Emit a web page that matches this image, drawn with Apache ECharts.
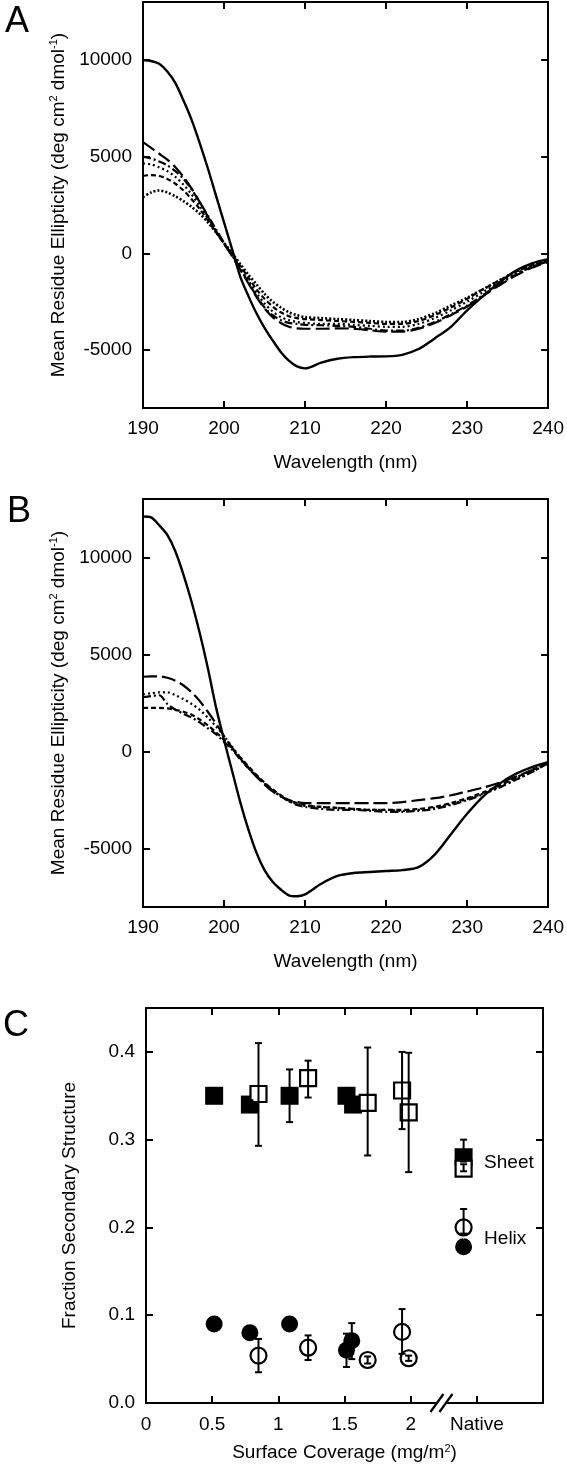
<!DOCTYPE html>
<html><head><meta charset="utf-8">
<script src="https://cdn.jsdelivr.net/npm/echarts@6/dist/echarts.min.js"></script>
<style>html,body{margin:0;padding:0;background:#fff}#c{width:567px;height:1470px}</style>
</head><body><div id="c"></div>
<script>
// ---------- DATA ----------
const wavelengths = [190,191,192,193,194,195,196,197,198,199,200,201,202,203,204,205,206,207,208,209,210,
  212,214,216,218,220,222,224,226,228,230,232,234,236,238,240];

// Panel A
const aSolid = [10000,9950,9800,9400,8800,7900,6900,5700,4400,3000,1600,200,-1200,-2200,-3100,-3850,-4500,-5100,-5550,-5850,-5950,
  -5650,-5450,-5370,-5340,-5330,-5250,-4950,-4400,-3800,-2950,-2200,-1500,-900,-520,-300];
const aLongDash = [5750,5450,5150,4850,4450,3950,3350,2650,1900,1150,500,-150,-850,-1550,-2250,-2850,-3300,-3600,-3800,-3880,-3900,
  -3900,-3880,-3900,-3980,-4050,-4050,-3900,-3600,-3200,-2750,-2200,-1650,-1150,-750,-450];
const aDashDot = [5000,4900,4750,4550,4250,3850,3300,2650,1950,1250,550,-100,-800,-1500,-2200,-2800,-3200,-3450,-3600,-3650,-3700,
  -3720,-3750,-3800,-3900,-4000,-4000,-3850,-3550,-3150,-2700,-2150,-1600,-1100,-700,-420];
const aDotted = [4650,4600,4450,4250,3950,3550,3050,2450,1800,1150,500,-100,-750,-1400,-2050,-2600,-3000,-3300,-3450,-3550,-3600,
  -3650,-3650,-3700,-3750,-3800,-3800,-3650,-3350,-2950,-2500,-2000,-1500,-1050,-680,-400];
const aShortDash = [4000,4050,4000,3850,3600,3250,2800,2300,1700,1100,500,-50,-650,-1250,-1850,-2350,-2750,-3050,-3250,-3350,-3400,
  -3450,-3500,-3550,-3600,-3650,-3650,-3500,-3200,-2800,-2350,-1850,-1400,-950,-620,-380];
const aDenseDot = [2900,3150,3250,3150,2950,2700,2400,2050,1600,1100,550,0,-550,-1100,-1600,-2100,-2500,-2800,-3050,-3200,-3300,
  -3350,-3400,-3450,-3500,-3550,-3550,-3400,-3100,-2700,-2300,-1850,-1400,-950,-620,-380];

// Panel B
const bSolid = [12100,12050,11650,11150,10300,9100,7700,6100,4300,2300,600,-1000,-2600,-4000,-5200,-6100,-6700,-7100,-7400,-7450,-7350,
  -6800,-6400,-6250,-6200,-6150,-6100,-5950,-5300,-4250,-3200,-2300,-1650,-1150,-800,-550];
const bLongDash = [3850,3870,3870,3800,3650,3400,3050,2600,2050,1450,800,200,-350,-850,-1300,-1700,-2050,-2300,-2500,-2600,-2650,
  -2650,-2650,-2650,-2650,-2650,-2600,-2500,-2400,-2250,-2050,-1850,-1600,-1300,-950,-550];
const bDotted = [2950,3000,3050,3050,2900,2700,2450,2150,1750,1300,800,250,-300,-800,-1250,-1650,-2000,-2300,-2550,-2700,-2800,
  -2850,-2900,-2950,-3000,-3000,-3050,-3000,-2900,-2700,-2450,-2150,-1800,-1450,-1050,-600];
const bDashDot = [2800,2850,2900,2450,2150,1950,1750,1500,1200,900,500,100,-400,-850,-1250,-1650,-2000,-2300,-2550,-2750,-2850,
  -2950,-3000,-3000,-3050,-3100,-3100,-3050,-2950,-2750,-2500,-2200,-1850,-1450,-1050,-600];
const bShortDash = [2250,2250,2250,2220,2150,2050,1900,1650,1350,1000,600,150,-300,-750,-1200,-1600,-1950,-2250,-2500,-2650,-2750,
  -2850,-2900,-2950,-3000,-3000,-3000,-2950,-2850,-2650,-2400,-2100,-1750,-1350,-950,-550];

const mreTicks = [-5000, 0, 5000, 10000];

// Panel C: [coverage, fraction, errLow, errHigh]
const sheetFilled = [[0.515,0.350,0.345,0.355],[0.785,0.340,0.335,0.345],[1.085,0.350,0.320,0.380],[1.515,0.350,0.345,0.355],[1.565,0.340,0.335,0.345],[2.40,0.280,0.275,0.300]];
const sheetOpen = [[0.850,0.352,0.293,0.410],[1.225,0.370,0.348,0.390],[1.675,0.342,0.282,0.405],[1.935,0.356,0.312,0.400],[1.985,0.331,0.263,0.399],[2.40,0.267,0.264,0.272]];
const helixFilled = [[0.515,0.090,0.085,0.095],[0.785,0.080,0.075,0.085],[1.085,0.090,0.085,0.095],[1.515,0.060,0.041,0.079],[1.555,0.071,0.050,0.091],[2.40,0.178,0.173,0.183]];
const helixOpen = [[0.850,0.054,0.035,0.073],[1.225,0.063,0.049,0.077],[1.675,0.049,0.045,0.053],[1.935,0.081,0.056,0.107],[1.985,0.051,0.048,0.054],[2.40,0.200,0.193,0.221]];
const legendLabels = [[2.40,0.274,'Sheet'],[2.40,0.187,'Helix']];
const coverageTicks = [0, 0.5, 1, 1.5, 2, 2.5];
const fractionTicks = [0, 0.1, 0.2, 0.3, 0.4];
const axisBreakAt = [[2.24, 0]];

// ---------- CHART ----------
const FONT = 'Liberation Sans, Arial, sans-serif';
const BLACK = '#000';
const chart = echarts.init(document.getElementById('c'), null, {renderer:'canvas'});

const gridA = {left:143, top:2, width:406, height:406};
const gridB = {left:143, top:499, width:406, height:408};
const gridC = {left:146, top:1008, width:397, height:395};

function pairs(vals){ return wavelengths.map((w,i)=>[w, vals[i]]); }
const axisLineStyle = {show:true, onZero:false, lineStyle:{color:BLACK, width:2}};
const tickStyle = {show:true, inside:true, length:7, lineStyle:{color:BLACK, width:2}};
const labelStyle = {color:BLACK, fontFamily:FONT, fontSize:19};
const nameStyle = {color:BLACK, fontFamily:FONT, fontSize:19};
const supRich = {sup:{fontSize:11, fontFamily:FONT, color:BLACK, verticalAlign:'top', padding:[0,0,9,0]}};

function wlAxis(grid, pos, withLabels){
  const ax = {type:'value', gridIndex:grid, position:pos, min:190, max:240, interval:10,
    axisLine:axisLineStyle, axisTick:Object.assign({}, tickStyle), splitLine:{show:false},
    axisLabel: withLabels ? Object.assign({margin:11, formatter:v=>String(v)}, labelStyle) : {show:false}};
  if (withLabels){ ax.name='Wavelength (nm)'; ax.nameLocation='middle'; ax.nameGap=45; ax.nameTextStyle=nameStyle; }
  return ax;
}
function mreAxis(grid, pos, withLabels){
  const ax = {type:'value', gridIndex:grid, position:pos, min:-8000, max:13000,
    axisLine:axisLineStyle, axisTick:Object.assign({customValues:mreTicks}, tickStyle), splitLine:{show:false},
    axisLabel: withLabels ? Object.assign({margin:11, customValues:mreTicks, formatter:v=>String(v)}, labelStyle) : {show:false}};
  if (withLabels){
    ax.name='Mean Residue Ellipticity (deg cm{sup|2} dmol{sup|-1})';
    ax.nameLocation='middle'; ax.nameGap=74; ax.nameRotate=90;
    ax.nameTextStyle=Object.assign({rich:supRich}, nameStyle);
  }
  return ax;
}

function lineSeries(x, y, vals, dash, width){
  return {type:'line', xAxisIndex:x, yAxisIndex:y, data:pairs(vals), showSymbol:false, symbol:'none', smooth:0.3,
    lineStyle:{color:BLACK, width:width||2.2, type:dash||'solid'}, silent:true, z:2};
}

function errRender(params, api){
  const x = api.value(0), lo = api.value(2), hi = api.value(3);
  const p1 = api.coord([x, lo]), p2 = api.coord([x, hi]);
  const cw = 3.5, st = {stroke:BLACK, lineWidth:2};
  return {type:'group', children:[
    {type:'line', shape:{x1:p1[0],y1:p1[1],x2:p2[0],y2:p2[1]}, style:st},
    {type:'line', shape:{x1:p1[0]-cw,y1:p1[1],x2:p1[0]+cw,y2:p1[1]}, style:st},
    {type:'line', shape:{x1:p2[0]-cw,y1:p2[1],x2:p2[0]+cw,y2:p2[1]}, style:st}
  ]};
}
function errSeries(data){
  return {type:'custom', xAxisIndex:4, yAxisIndex:4, data:data, renderItem:errRender, z:6, silent:true, clip:false,
    encode:{x:0, y:1}};
}
function scatterSeries(data, symbol, filled, size){
  return {type:'scatter', xAxisIndex:4, yAxisIndex:4, data:data.map(d=>[d[0],d[1]]), symbol:symbol, symbolSize:size,
    itemStyle:{color: filled?BLACK:'#fff', borderColor:BLACK, borderWidth: filled?0:2.2, opacity:1}, z: filled?3:4, silent:true};
}

const option = {
  animation:false,
  backgroundColor:'#fff',
  textStyle:{fontFamily:FONT, color:BLACK},
  grid:[gridA, gridB, gridC].map(g=>Object.assign({containLabel:false}, g)),
  xAxis:[
    wlAxis(0,'bottom',true), wlAxis(0,'top',false),
    wlAxis(1,'bottom',true), wlAxis(1,'top',false),
    {type:'value', gridIndex:2, position:'bottom', min:0, max:3,
      axisLine:axisLineStyle, axisTick:Object.assign({customValues:[0.5,1,1.5,2,2.5]}, tickStyle), splitLine:{show:false},
      axisLabel:Object.assign({margin:12, customValues:coverageTicks, formatter:v=>(Math.abs(v-2.5)<1e-6?'Native':String(v))}, labelStyle),
      name:'Surface Coverage (mg/m{sup|2})', nameLocation:'middle', nameGap:40,
      nameTextStyle:Object.assign({rich:supRich}, nameStyle)},
    {type:'value', gridIndex:2, position:'top', min:0, max:3,
      axisLine:axisLineStyle, axisTick:Object.assign({customValues:[0.5,1,1.5,2,2.5]}, tickStyle), splitLine:{show:false}, axisLabel:{show:false}}
  ],
  yAxis:[
    mreAxis(0,'left',true), mreAxis(0,'right',false),
    mreAxis(1,'left',true), mreAxis(1,'right',false),
    {type:'value', gridIndex:2, position:'left', min:0, max:0.45,
      axisLine:axisLineStyle, axisTick:Object.assign({customValues:[0.1,0.2,0.3,0.4]}, tickStyle), splitLine:{show:false},
      axisLabel:Object.assign({margin:11, customValues:fractionTicks, formatter:v=>v.toFixed(1)}, labelStyle),
      name:'Fraction Secondary Structure', nameLocation:'middle', nameGap:67, nameRotate:90, nameTextStyle:nameStyle},
    {type:'value', gridIndex:2, position:'right', min:0, max:0.45,
      axisLine:axisLineStyle, axisTick:Object.assign({customValues:[0.1,0.2,0.3,0.4]}, tickStyle), splitLine:{show:false}, axisLabel:{show:false}}
  ],
  graphic:[
    {type:'text', left:5, top:4, style:{text:'A', font:'36px '+FONT, fill:BLACK}},
    {type:'text', left:7, top:494, style:{text:'B', font:'36px '+FONT, fill:BLACK}},
    {type:'text', left:3, top:1008, style:{text:'C', font:'36px '+FONT, fill:BLACK}}
  ],
  series:[
    lineSeries(0,0,aSolid,'solid',2.4),
    lineSeries(0,0,aLongDash,[14,5]),
    lineSeries(0,0,aDashDot,[8,3,2,3]),
    lineSeries(0,0,aDotted,[2,3]),
    lineSeries(0,0,aShortDash,[5,3]),
    lineSeries(0,0,aDenseDot,[2,2],2.6),
    lineSeries(2,2,bSolid,'solid',2.4),
    lineSeries(2,2,bLongDash,[14,5]),
    lineSeries(2,2,bDotted,[2,3]),
    lineSeries(2,2,bDashDot,[8,3,2,3]),
    lineSeries(2,2,bShortDash,[5,3]),
    scatterSeries(sheetFilled,'rect',true,18),
    scatterSeries(helixFilled,'circle',true,17),
    scatterSeries(sheetOpen,'rect',false,16),
    scatterSeries(helixOpen,'circle',false,16),
    errSeries(sheetFilled), errSeries(sheetOpen), errSeries(helixFilled), errSeries(helixOpen),
    {type:'scatter', xAxisIndex:4, yAxisIndex:4, data:legendLabels, symbolSize:1, itemStyle:{color:'#fff', opacity:1}, silent:true,
      label:{show:true, position:'right', distance:20, formatter:p=>p.value[2], color:BLACK, opacity:1, textBorderWidth:0,
        fontFamily:FONT, fontSize:19}, z:5},
    {type:'custom', xAxisIndex:4, yAxisIndex:4, data:axisBreakAt, clip:false, z:10, silent:true,
      renderItem:function(params, api){
        const p = api.coord([api.value(0), api.value(1)]);
        const st = {stroke:BLACK, lineWidth:2.2};
        return {type:'group', children:[
          {type:'rect', shape:{x:p[0]-5, y:p[1]-3, width:9, height:6}, style:{fill:'#fff'}},
          {type:'line', shape:{x1:p[0]-12, y1:p[1]+9, x2:p[0]+1, y2:p[1]-9}, style:st},
          {type:'line', shape:{x1:p[0]-3, y1:p[1]+9, x2:p[0]+10, y2:p[1]-9}, style:st}
        ]};
      }}
  ]
};
chart.setOption(option);
</script>
</body></html>
